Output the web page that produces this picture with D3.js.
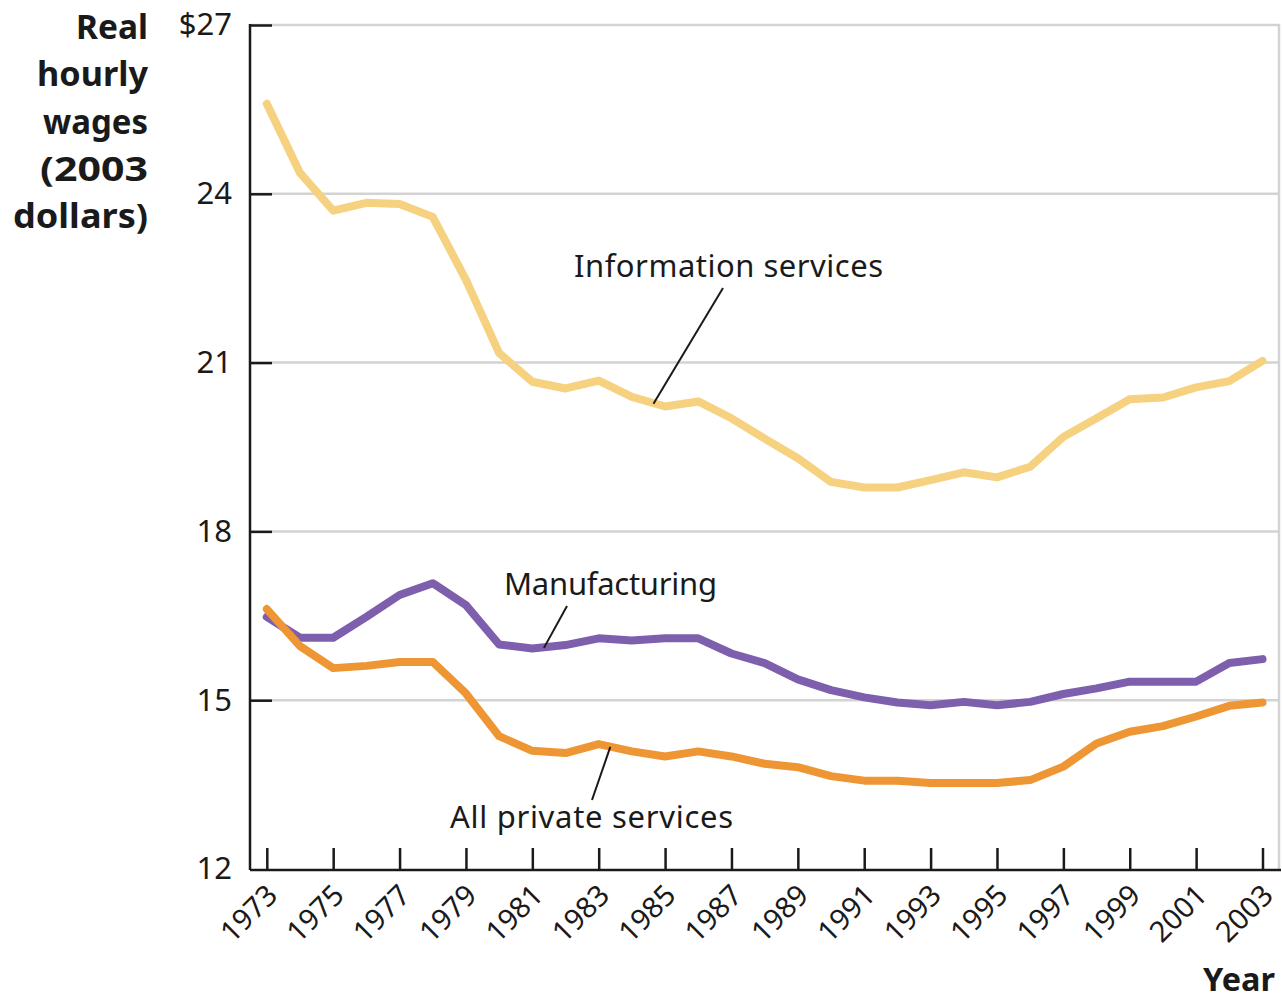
<!DOCTYPE html>
<html>
<head>
<meta charset="utf-8">
<script src="https://cdn.jsdelivr.net/npm/d3@7"></script>
<style>
  html, body { margin: 0; padding: 0; background: #ffffff; }
  svg { display: block; }
  text { font-family: "Noto Sans", "Open Sans", sans-serif; fill: #1a1a1a; }
</style>
</head>
<body>
<svg id="chart" width="1282" height="1001"></svg>
<script>
// Real hourly wages in 2003 dollars, 1973–2003
const years = d3.range(1973, 2004);
const informationServices = [
  25.60, 24.37, 23.70, 23.84, 23.82, 23.59, 22.47, 21.17, 20.66, 20.54,
  20.68, 20.39, 20.22, 20.31, 20.01, 19.65, 19.30, 18.88, 18.78, 18.78,
  18.91, 19.05, 18.96, 19.15, 19.68, 20.01, 20.35, 20.38, 20.56, 20.67, 21.03
];
const manufacturing = [
  16.48, 16.11, 16.11, 16.48, 16.87, 17.08, 16.69, 15.99, 15.92, 15.98,
  16.10, 16.06, 16.10, 16.10, 15.83, 15.66, 15.37, 15.18, 15.05, 14.96,
  14.91, 14.97, 14.91, 14.97, 15.11, 15.21, 15.33, 15.33, 15.33, 15.66, 15.73
];
const allPrivateServices = [
  16.62, 15.96, 15.57, 15.61, 15.68, 15.68, 15.12, 14.36, 14.10, 14.06,
  14.22, 14.09, 14.00, 14.09, 14.00, 13.87, 13.81, 13.65, 13.57, 13.57,
  13.53, 13.53, 13.53, 13.58, 13.82, 14.23, 14.44, 14.54, 14.71, 14.90, 14.96
];
const seriesNames = ["Information services", "Manufacturing", "All private services"];
const yTicks = [12, 15, 18, 21, 24, 27];
const xTicks = d3.range(1973, 2004, 2);

const svg = d3.select("#chart");

const plotLeft = 250, plotRight = 1279, plotTop = 25, plotBottom = 870;
const x = d3.scaleLinear().domain([1973, 2003]).range([266.8, 1262.5]);
const y = d3.scaleLinear().domain([12, 27]).range([869, 25]);

// Horizontal gridlines
svg.append("g")
  .selectAll("line")
  .data(yTicks.filter(d => d > 12))
  .join("line")
  .attr("x1", plotLeft).attr("x2", plotRight)
  .attr("y1", d => y(d)).attr("y2", d => y(d))
  .attr("stroke", "#d3d3d3").attr("stroke-width", 2.5);

// Right frame edge
svg.append("line")
  .attr("x1", plotRight).attr("x2", plotRight)
  .attr("y1", plotTop - 1).attr("y2", plotBottom)
  .attr("stroke", "#d3d3d3").attr("stroke-width", 2.5);

// Y axis
const yAxis = svg.append("g")
  .attr("transform", `translate(${plotLeft},0)`)
  .call(d3.axisLeft(y)
    .tickValues(yTicks)
    .tickSize(-22)
    .tickPadding(18)
    .tickFormat(d => d === 27 ? "$27" : d));
yAxis.select(".domain").attr("stroke", "#1a1a1a").attr("stroke-width", 2.5)
  .attr("d", `M0,${plotTop - 1}V${plotBottom}`);
yAxis.selectAll(".tick line").attr("stroke", "#1a1a1a").attr("stroke-width", 2.5);
yAxis.selectAll(".tick text")
  .attr("font-size", 31)
  .attr("font-family", "'Noto Sans', sans-serif")
  .attr("fill", "#1a1a1a");
yAxis.selectAll(".tick")
  .filter(d => d === 12)
  .select("line").remove();

// X axis
const xAxis = svg.append("g")
  .attr("transform", `translate(0,${plotBottom})`)
  .call(d3.axisBottom(x)
    .tickValues(xTicks)
    .tickSize(-22)
    .tickFormat(d3.format("d")));
xAxis.select(".domain").attr("stroke", "#1a1a1a").attr("stroke-width", 2.5)
  .attr("d", `M${plotLeft},0H${plotRight + 2}`);
xAxis.selectAll(".tick line").attr("stroke", "#1a1a1a").attr("stroke-width", 2.5);
xAxis.selectAll(".tick text")
  .attr("font-size", 29)
  .attr("font-family", "'Noto Sans', sans-serif")
  .attr("fill", "#1a1a1a")
  .attr("text-anchor", "end")
  .attr("dy", null)
  .attr("y", 0)
  .attr("transform", "translate(12,27) rotate(-45)");

// Wage lines
const line = d3.line()
  .x((d, i) => x(years[i]))
  .y(d => y(d));

const series = [
  { name: seriesNames[0], values: informationServices, color: "#f6d17f" },
  { name: seriesNames[1], values: manufacturing, color: "#7d5fae" },
  { name: seriesNames[2], values: allPrivateServices, color: "#ee9633" }
];

svg.append("g")
  .selectAll("path")
  .data(series)
  .join("path")
  .attr("d", d => line(d.values))
  .attr("fill", "none")
  .attr("stroke", d => d.color)
  .attr("stroke-width", 8)
  .attr("stroke-linejoin", "round")
  .attr("stroke-linecap", "round");

// Series labels with leader lines pointing at a spot on each curve
const labels = [
  { text: seriesNames[0], tx: 574, ty: 277, width: 309, lx: 723, ly: 288, year: 1984.65, value: 20.27 },
  { text: seriesNames[1], tx: 504, ty: 595, width: 213, lx: 567, ly: 606, year: 1981.35, value: 15.93 },
  { text: seriesNames[2], tx: 450, ty: 828, width: 283, lx: 592, ly: 800, year: 1983.35, value: 14.17 }
];

const lab = svg.append("g");
lab.selectAll("line")
  .data(labels)
  .join("line")
  .attr("x1", d => d.lx).attr("y1", d => d.ly)
  .attr("x2", d => x(d.year)).attr("y2", d => y(d.value))
  .attr("stroke", "#1a1a1a").attr("stroke-width", 2);
lab.selectAll("text")
  .data(labels)
  .join("text")
  .attr("x", d => d.tx).attr("y", d => d.ty)
  .attr("font-size", 31)
  .attr("textLength", d => d.width)
  .attr("lengthAdjust", "spacing")
  .text(d => d.text);

// Axis titles
const yTitle = ["Real", "hourly", "wages", "(2003", "dollars)"];
const yTitleWidths = [72, 111, 105, 108, 135];
svg.append("g")
  .selectAll("text")
  .data(yTitle)
  .join("text")
  .attr("x", (d, i) => 148 - yTitleWidths[i])
  .attr("y", (d, i) => 39 + i * 47.3)
  .attr("font-size", 34)
  .attr("font-weight", "bold")
  .attr("textLength", (d, i) => yTitleWidths[i])
  .attr("lengthAdjust", "spacingAndGlyphs")
  .text(d => d);

svg.append("text")
  .attr("x", 1203)
  .attr("y", 991)
  .attr("font-size", 32)
  .attr("font-weight", "bold")
  .attr("textLength", 72)
  .attr("lengthAdjust", "spacingAndGlyphs")
  .text("Year");
</script>
</body>
</html>
